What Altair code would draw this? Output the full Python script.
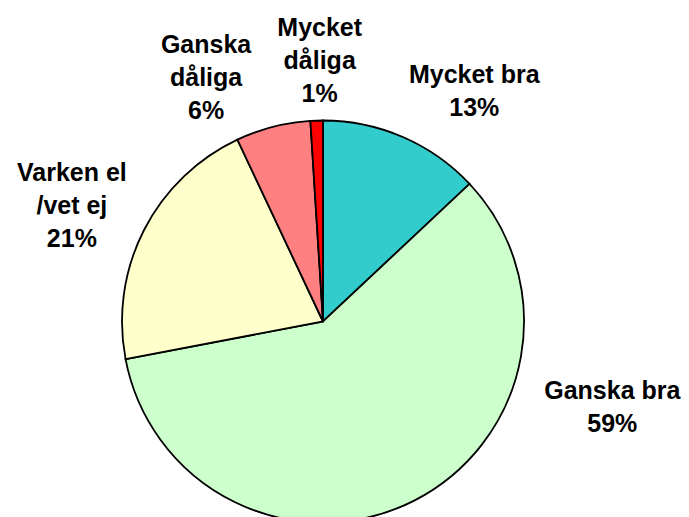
import altair as alt
import pandas as pd

categories = ["Mycket bra", "Ganska bra", "Varken el /vet ej", "Ganska dåliga", "Mycket dåliga"]
values = [13, 59, 21, 6, 1]
labels = ["Mycket bra\n13%", "Ganska bra\n59%", "Varken el\n/vet ej\n21%", "Ganska\ndåliga\n6%", "Mycket\ndåliga\n1%"]
colors = ["#33CCCC", "#CCFFCC", "#FFFFCC", "#FF8080", "#FF0000"]

df = pd.DataFrame({
    "category": categories,
    "value": values,
    "label": labels,
    "idx": list(range(len(categories))),
})

CX, CY = 315, 313.5
theta_scale = alt.Scale(domain=[0, 100])

base = alt.Chart(df)

pie = base.mark_arc(radius=201, stroke="black", strokeWidth=1.8).encode(
    theta=alt.Theta("value:Q", stack=True, scale=theta_scale),
    color=alt.Color("category:N", scale=alt.Scale(domain=categories, range=colors), legend=None),
    order=alt.Order("idx:Q"),
    x=alt.value(CX),
    y=alt.value(CY),
)

# label nudges (pixels) relative to the mid-angle anchor
nudges = {
    "Mycket bra": (46, -3),
    "Ganska bra": (169, -167),
    "Varken el /vet ej": (-15, -28),
    "Ganska dåliga": (-51, -20),
    "Mycket dåliga": (5, -29),
}

layers = [pie]
for cat in categories:
    dx, dy = nudges[cat]
    t = (
        base.transform_window(cum="sum(value)", sort=[alt.SortField("idx")], frame=[None, 0])
        .transform_calculate(mid="datum.cum - datum.value / 2")
        .transform_filter(alt.datum.category == cat)
        .mark_text(
            radius=265, dx=dx, dy=dy, lineBreak="\n",
            font="Liberation Sans", fontWeight="bold", fontSize=25, lineHeight=33,
            align="center", baseline="middle", color="black",
        )
        .encode(
            theta=alt.Theta("mid:Q", stack=False, scale=theta_scale),
            text="label:N",
            x=alt.value(CX),
            y=alt.value(CY),
        )
    )
    layers.append(t)

chart = alt.layer(*layers).properties(
    width=673, height=509, padding=0,
    autosize=alt.AutoSizeParams(type="none"),
).configure_view(strokeWidth=0)

chart.save("out.html", embed_options={"renderer": "svg", "actions": False})
